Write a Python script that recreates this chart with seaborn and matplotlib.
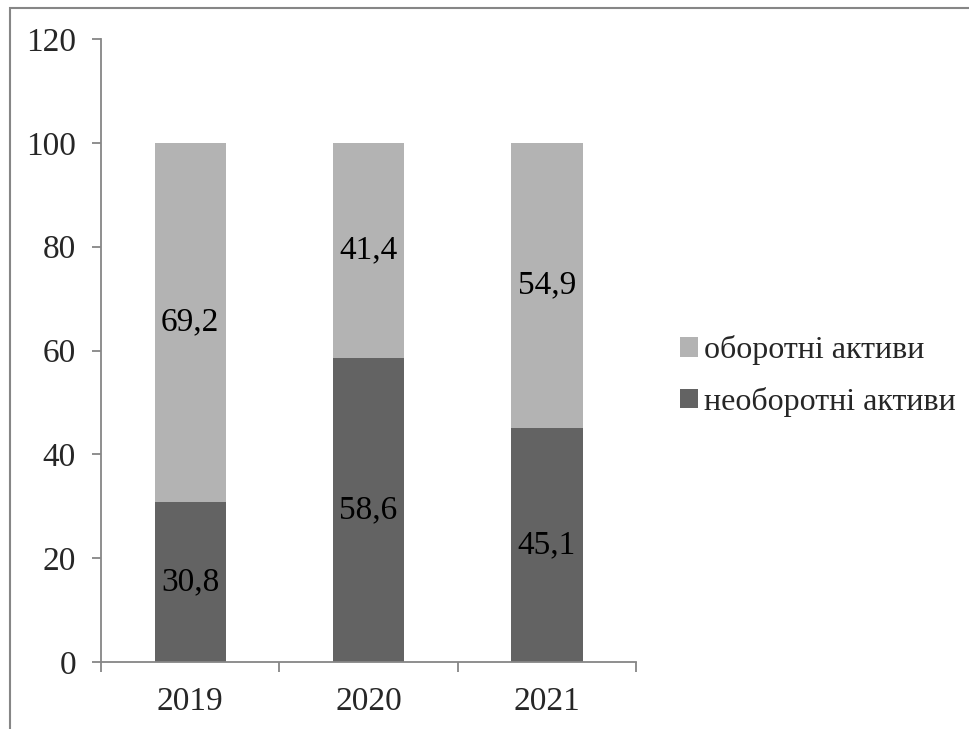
import matplotlib
matplotlib.use("Agg")
import matplotlib.pyplot as plt
from matplotlib.patches import Rectangle, Patch
from matplotlib.ticker import FixedLocator
import seaborn as sns
import pandas as pd

# Asset structure, % of total
years = ["2019", "2020", "2021"]
noncurrent = [30.8, 58.6, 45.1]
current = [69.2, 41.4, 54.9]
series_names = ["оборотні активи", "необоротні активи"]
y_ticks = [0, 20, 40, 60, 80, 100, 120]

light = "#b3b3b3"
dark = "#636363"
axis_gray = "#868686"

sns.set_theme(style="white")
plt.rcParams["font.family"] = ["Liberation Serif", "DejaVu Serif"]

df = pd.DataFrame({
    "year": years,
    "noncurrent": noncurrent,
    "current": current,
})
df["total"] = df["noncurrent"] + df["current"]

fig = plt.figure(figsize=(9.69, 7.29), dpi=100)
ax = fig.add_axes([101 / 969, 1 - 662 / 729, (636 - 101) / 969, (662 - 39) / 729])

# Stacked bars: full height in light grey, non-current share drawn over it
sns.barplot(data=df, x="year", y="total", color=light, saturation=1,
            width=0.4, ax=ax, errorbar=None, linewidth=0)
sns.barplot(data=df, x="year", y="noncurrent", color=dark, saturation=1,
            width=0.4, ax=ax, errorbar=None, linewidth=0)

# Value labels in the middle of each segment
for i, (nc, cu) in enumerate(zip(noncurrent, current)):
    ax.text(i, nc / 2, f"{nc:.1f}".replace(".", ","), ha="center", va="center",
            fontsize=24, color="black")
    ax.text(i, nc + cu / 2, f"{cu:.1f}".replace(".", ","), ha="center", va="center",
            fontsize=24, color="black")

ax.set_xlim(-0.5, 2.5)
ax.set_ylim(0, 120)
ax.set_yticks(y_ticks)
ax.set_yticklabels([str(t) for t in y_ticks], fontsize=24)
ax.set_xticks(range(len(years)))
ax.set_xticklabels(years, fontsize=24)
ax.xaxis.set_minor_locator(FixedLocator([-0.5, 0.5, 1.5, 2.5]))
ax.tick_params(axis="x", which="major", length=0, pad=18)
ax.tick_params(axis="x", which="minor", length=7, width=1.3, color=axis_gray, bottom=True)
ax.tick_params(axis="y", which="major", length=6.5, width=1.3, color=axis_gray,
               left=True, pad=11.5)
ax.set_xlabel("")
ax.set_ylabel("")

for side in ["top", "right"]:
    ax.spines[side].set_visible(False)
for side in ["left", "bottom"]:
    ax.spines[side].set_color(axis_gray)
    ax.spines[side].set_linewidth(1.3)

handles = [Patch(facecolor=light, edgecolor="none"),
           Patch(facecolor=dark, edgecolor="none")]
fig.legend(handles, series_names, loc="center left",
           bbox_to_anchor=(680 / 969, 1 - 376 / 729), frameon=False,
           fontsize=23, handlelength=0.55, handleheight=0.55,
           handletextpad=0.2, labelspacing=0.67, borderaxespad=0,
           borderpad=0)

# Chart area frame
fig.patches.append(Rectangle((9.5 / 969, -0.1), 1.2, 1 - 7.5 / 729 + 0.1,
                             transform=fig.transFigure, fill=False,
                             edgecolor=axis_gray, linewidth=1.5, zorder=0))

fig.savefig("out.png", dpi=100)
